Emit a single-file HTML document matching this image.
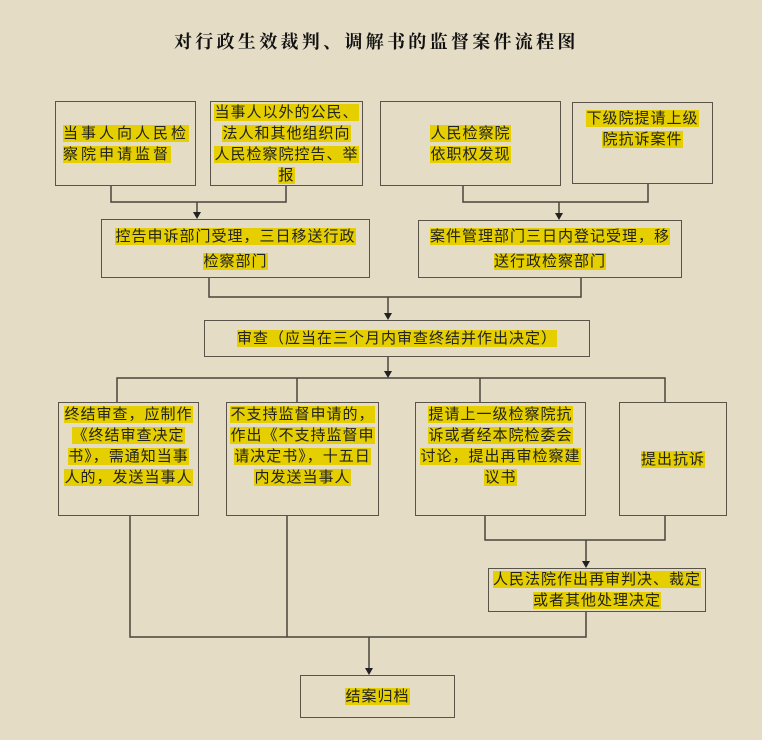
<!DOCTYPE html>
<html><head><meta charset="utf-8"><style>
body{margin:0;width:762px;height:740px;background:#e5dcc6;position:relative;overflow:hidden;font-family:"Liberation Sans","Noto Sans CJK SC",sans-serif;}
.t{position:absolute;left:174px;top:28px;width:420px;font-family:"Liberation Serif","Noto Serif CJK SC",serif;font-weight:bold;font-size:18px;letter-spacing:3.3px;white-space:nowrap;color:#111;}
.b{position:absolute;box-sizing:border-box;border:1.5px solid #5a5348;display:flex;flex-direction:column;align-items:center;justify-content:center;font-size:15px;letter-spacing:1px;color:#222;white-space:nowrap;}
.b.top{justify-content:flex-start;}
.b div{line-height:21px;}
.b span{background:#e6cf00;}
svg{position:absolute;left:0;top:0;}
</style></head><body>
<div class="t">对行政生效裁判、调解书的监督案件流程图</div>
<svg width="762" height="740">
<g stroke="#4a443b" stroke-width="1.5" fill="none">
<polyline points="111,185 111,202 286,202 286,185"/>
<line x1="197" y1="202" x2="197" y2="213"/>
<polyline points="463,185 463,202 648,202 648,183"/>
<line x1="559" y1="202" x2="559" y2="214"/>
<polyline points="209,277 209,297 581,297 581,278"/>
<line x1="388" y1="297" x2="388" y2="314"/>
<line x1="388" y1="357" x2="388" y2="372"/>
<polyline points="117,402 117,378 665,378 665,402"/>
<line x1="297" y1="378" x2="297" y2="402"/>
<line x1="480" y1="378" x2="480" y2="402"/>
<polyline points="485,515 485,540 665,540 665,515"/>
<line x1="586" y1="540" x2="586" y2="562"/>
<polyline points="130,515 130,637 586,637 586,611"/>
<line x1="287" y1="515" x2="287" y2="637"/>
<line x1="369" y1="637" x2="369" y2="669"/>
</g>
<g fill="#222">
<polygon points="193,212 201,212 197,219"/>
<polygon points="555,213 563,213 559,220"/>
<polygon points="384,313 392,313 388,320"/>
<polygon points="384,371 392,371 388,378"/>
<polygon points="582,561 590,561 586,568"/>
<polygon points="365,668 373,668 369,675"/>
</g>
</svg>
<div class="b" style="left:55px;top:101px;width:141px;height:85px;letter-spacing:3px;align-items:flex-start;padding-left:7px"><div><span>当事人向人民检</span></div><div><span>察院申请监督</span></div></div>
<div class="b" style="left:210px;top:101px;width:153px;height:85px;"><div><span>当事人以外的公民、</span></div><div><span>法人和其他组织向</span></div><div><span>人民检察院控告、举</span></div><div><span>报</span></div></div>
<div class="b" style="left:380px;top:101px;width:181px;height:85px;"><div><span>人民检察院</span></div><div><span>依职权发现</span></div></div>
<div class="b top" style="left:572px;top:102px;width:141px;height:82px;padding-top:5px"><div><span>下级院提请上级</span></div><div><span>院抗诉案件</span></div></div>
<div class="b" style="left:101px;top:219px;width:269px;height:59px;"><div style="line-height:25px"><span>控告申诉部门受理，三日移送行政</span></div><div style="line-height:25px"><span>检察部门</span></div></div>
<div class="b" style="left:418px;top:220px;width:264px;height:58px;"><div style="line-height:25px"><span>案件管理部门三日内登记受理，移</span></div><div style="line-height:25px"><span>送行政检察部门</span></div></div>
<div class="b" style="left:204px;top:320px;width:386px;height:37px;"><div><span>审查（应当在三个月内审查终结并作出决定）</span></div></div>
<div class="b top" style="left:58px;top:402px;width:141px;height:114px;padding-top:1px"><div><span>终结审查，应制作</span></div><div><span>《终结审查决定</span></div><div><span>书》，需通知当事</span></div><div><span>人的，发送当事人</span></div></div>
<div class="b top" style="left:226px;top:402px;width:153px;height:114px;padding-top:1px"><div><span>不支持监督申请的，</span></div><div><span>作出《不支持监督申</span></div><div><span>请决定书》，十五日</span></div><div><span>内发送当事人</span></div></div>
<div class="b top" style="left:415px;top:402px;width:171px;height:114px;padding-top:1px"><div><span>提请上一级检察院抗</span></div><div><span>诉或者经本院检委会</span></div><div><span>讨论，提出再审检察建</span></div><div><span>议书</span></div></div>
<div class="b" style="left:619px;top:402px;width:108px;height:114px;"><div><span>提出抗诉</span></div></div>
<div class="b" style="left:488px;top:568px;width:218px;height:44px;"><div><span>人民法院作出再审判决、裁定</span></div><div><span>或者其他处理决定</span></div></div>
<div class="b" style="left:300px;top:675px;width:155px;height:43px;"><div><span>结案归档</span></div></div>
</body></html>
